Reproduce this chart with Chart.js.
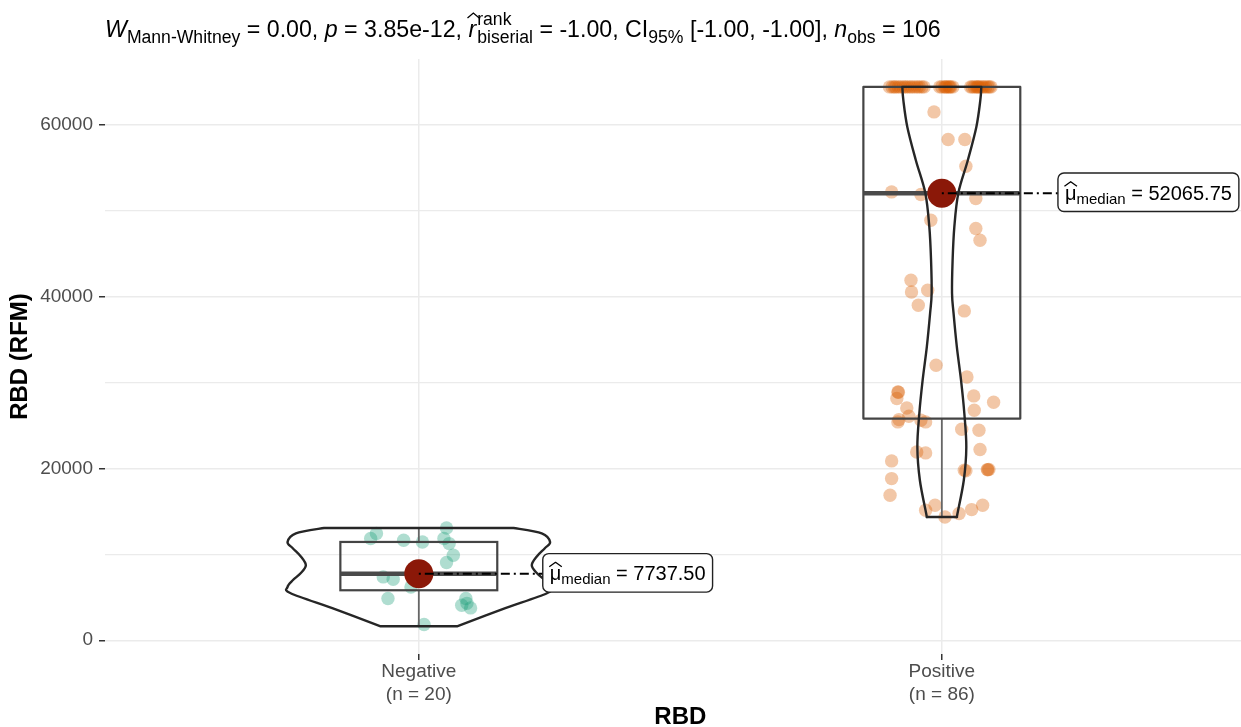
<!DOCTYPE html>
<html><head><meta charset="utf-8">
<script src="https://cdn.jsdelivr.net/npm/chart.js@4"></script>
<style>html,body{margin:0;padding:0;background:#fff}canvas{display:block}</style>
</head><body>
<canvas id="c" width="1241" height="727"></canvas>
<script>
// ---------------- data ----------------
const categories = ['Negative', 'Positive'];
const groupCounts = [20, 86];
const yMajorTicks = [0, 20000, 40000, 60000];
const yMinorTicks = [10000, 30000, 50000];

const negativeValues = [11850,12430,11650,11450,13080,11850,11260,9900,9050,7380,7110,6210,4860,4860,4080,3770,1830,7575,7900,4300];
const negativeJitter = [-0.092,-0.081,-0.029,0.007,0.053,0.048,0.058,0.066,0.053,-0.068,-0.049,-0.015,-0.059,0.090,0.082,0.099,0.010,-0.011,0.013,0.092];

const positiveTopValues = [64450,64450,64450,64450,64450,64450,64450,64450,64450,64450,64450,64450,64450,64450,64450,64450,64450,64450,64450,64450,64450,64450,64450,64450,64450,64450,64450,64450,64450,64450,64450,64450,64450,64450,64450,64450,64450,64450];
const positiveTopJitter = [-0.100,-0.095,-0.091,-0.088,-0.083,-0.079,-0.074,-0.070,-0.066,-0.061,-0.057,-0.052,-0.047,-0.043,-0.038,-0.034,
  -0.004,0.000,0.005,0.009,0.013,0.017,0.021,0.007,0.015,
  0.055,0.058,0.062,0.066,0.070,0.073,0.077,0.080,0.084,0.088,0.091,0.094,0.068];
const positiveRestValues = [61540,58320,58320,55210,52220,51911,51450,48920,47960,46590,41930,40570,40770,39020,38360,32030,30670,28920,28150,28460,27720,27060,26790,26090,25430,25630,25430,24580,24460,21930,21820,22210,20890,19800,19750,19880,19900,19850,18830,16890,15140,15730,14360,14760,15220,15730,25700,28880];
const positiveRestJitter = [-0.015,0.012,0.044,0.046,-0.096,-0.040,0.065,-0.021,0.065,0.073,-0.059,-0.058,-0.027,-0.045,0.043,-0.011,0.048,-0.084,-0.086,0.061,0.099,-0.067,0.062,-0.063,-0.084,-0.040,-0.031,0.038,0.071,-0.048,-0.031,0.073,-0.096,0.043,0.046,0.087,0.090,0.088,-0.096,-0.099,-0.031,-0.013,0.006,0.033,0.057,0.078,-0.082,-0.083];

// box-plot summaries [Negative, Positive]
const boxLower = [5824, 25820];
const boxMedian = [7737.50, 52065.75];
const boxUpper = [11450, 64450];
const whiskerLow = [1630, 14360];
const whiskerHigh = [13080, 64450];

// violin outlines: value and half-width (category units)
const violinNegValues = [13080,12460,11450,10720,9785,8740,7800,6990,6210,5475,3600,1630];
const violinNegHalf = [0.181,0.235,0.251,0.241,0.226,0.216,0.226,0.241,0.251,0.245,0.159,0.073];
const violinPosValues = [64450,62900,59790,55910,52070,48140,44260,40420,38090,34160,30290,26440,22520,18640,14790,14360];
const violinPosHalf = [0.0755,0.0736,0.066,0.0497,0.0315,0.0239,0.0206,0.0195,0.0224,0.0287,0.0367,0.043,0.0468,0.042,0.030,0.029];

const medianLabels = ['7737.50', '52065.75'];
const statW = '0.00', statP = '3.85e-12', statR = '-1.00', statCI = '[-1.00, -1.00]', statN = '106';

// --------------- build ---------------
const FONT = '"Liberation Sans", Arial, Helvetica, sans-serif';
const negPoints = negativeValues.map((v, i) => ({x: 1 + negativeJitter[i], y: v}));
const posPoints = positiveTopValues.map((v, i) => ({x: 2 + positiveTopJitter[i], y: v}))
  .concat(positiveRestValues.map((v, i) => ({x: 2 + positiveRestJitter[i], y: v})));
const violins = [
  {vals: violinNegValues, half: violinNegHalf},
  {vals: violinPosValues, half: violinPosHalf}
];
const labelNudge = [0.237, 0.222];

function smoothThrough(ctx, pts) {
  for (let i = 0; i < pts.length - 1; i++) {
    const p0 = pts[i - 1] || pts[i], p1 = pts[i], p2 = pts[i + 1], p3 = pts[i + 2] || pts[i + 1];
    ctx.bezierCurveTo(p1[0] + (p2[0] - p0[0]) / 6, p1[1] + (p2[1] - p0[1]) / 6,
                      p2[0] - (p3[0] - p1[0]) / 6, p2[1] - (p3[1] - p1[1]) / 6, p2[0], p2[1]);
  }
}
function hat(ctx, x0, x1, yb, h) {
  ctx.save();
  ctx.beginPath();
  ctx.lineWidth = 1.3; ctx.strokeStyle = '#000';
  ctx.moveTo(x0, yb); ctx.lineTo((x0 + x1) / 2, yb - h); ctx.lineTo(x1, yb);
  ctx.stroke();
  ctx.restore();
}

const overlay = {
  id: 'overlay',
  beforeDraw(chart) {
    const c = chart.ctx; c.save(); c.fillStyle = '#fff'; c.fillRect(0, 0, chart.width, chart.height); c.restore();
  },
  afterDatasetsDraw(chart) {
    const ctx = chart.ctx, x = chart.scales.x, y = chart.scales.y;
    ctx.save();
    categories.forEach((cat, i) => {
      const c = i + 1;
      const xc = x.getPixelForValue(c);
      const xl = x.getPixelForValue(c - 0.15), xr = x.getPixelForValue(c + 0.15);
      const yq1 = y.getPixelForValue(boxLower[i]), yq3 = y.getPixelForValue(boxUpper[i]);
      const ym = y.getPixelForValue(boxMedian[i]);
      // whiskers
      ctx.strokeStyle = '#666'; ctx.lineWidth = 1.8;
      ctx.beginPath();
      ctx.moveTo(xc, yq3); ctx.lineTo(xc, y.getPixelForValue(whiskerHigh[i]));
      ctx.moveTo(xc, yq1); ctx.lineTo(xc, y.getPixelForValue(whiskerLow[i]));
      ctx.stroke();
      // box
      ctx.strokeStyle = '#444'; ctx.lineWidth = 2.2;
      ctx.strokeRect(xl, yq3, xr - xl, yq1 - yq3);
      ctx.lineWidth = 4.5; ctx.strokeStyle = '#4a4a4a';
      ctx.beginPath(); ctx.moveTo(xl, ym); ctx.lineTo(xr, ym); ctx.stroke();
      // violin
      const v = violins[i];
      const left = v.vals.map((val, k) => [x.getPixelForValue(c - v.half[k]), y.getPixelForValue(val)]);
      const right = v.vals.map((val, k) => [x.getPixelForValue(c + v.half[k]), y.getPixelForValue(val)]).reverse();
      ctx.beginPath();
      ctx.moveTo(left[0][0], left[0][1]);
      smoothThrough(ctx, left);
      ctx.lineTo(right[0][0], right[0][1]);
      smoothThrough(ctx, right);
      ctx.closePath();
      ctx.strokeStyle = '#262626'; ctx.lineWidth = 2.4; ctx.lineJoin = 'round';
      ctx.stroke();
    });
    // centrality points, connectors, labels
    categories.forEach((cat, i) => {
      const c = i + 1;
      const xc = x.getPixelForValue(c), ym = y.getPixelForValue(boxMedian[i]);
      ctx.beginPath(); ctx.fillStyle = 'rgb(139,24,8)';
      ctx.arc(xc, ym, 14.5, 0, Math.PI * 2); ctx.fill();
      const bx = x.getPixelForValue(c + labelNudge[i]);
      ctx.beginPath(); ctx.setLineDash([2, 4, 9, 4]);
      ctx.strokeStyle = '#000'; ctx.lineWidth = 2;
      ctx.moveTo(xc, ym); ctx.lineTo(bx, ym); ctx.stroke();
      ctx.setLineDash([]);
      // label
      const mainF = '20px ' + FONT, subF = '15px ' + FONT;
      ctx.font = mainF; const wMu = ctx.measureText('\u03bc').width;
      const wEq = ctx.measureText(' = ' + medianLabels[i]).width;
      ctx.font = subF; const wSub = ctx.measureText('median').width;
      const pad = 7;
      const bw = pad * 2 + wMu + wSub + wEq, bh = 38.5;
      const by = ym - 1 - bh / 2;
      ctx.beginPath();
      ctx.roundRect(bx, by, bw, bh, 6);
      ctx.fillStyle = '#fff'; ctx.fill();
      ctx.lineWidth = 1.4; ctx.strokeStyle = '#222'; ctx.stroke();
      const base = by + bh / 2 + 7.5;
      let tx = bx + pad;
      ctx.fillStyle = '#000'; ctx.textBaseline = 'alphabetic'; ctx.textAlign = 'left';
      ctx.font = mainF; ctx.fillText('\u03bc', tx, base);
      hat(ctx, tx - 0.5, tx + wMu + 0.5, base - 13.5, 4.5);
      tx += wMu;
      ctx.font = subF; ctx.fillText('median', tx, base + 4); tx += wSub;
      ctx.font = mainF; ctx.fillText(' = ' + medianLabels[i], tx, base);
    });
    ctx.restore();
  },
  afterDraw(chart) {
    const ctx = chart.ctx, x = chart.scales.x, area = chart.chartArea;
    ctx.save();
    ctx.fillStyle = '#000';
    // axis titles
    ctx.font = 'bold 24px ' + FONT; ctx.textAlign = 'center'; ctx.textBaseline = 'middle';
    ctx.fillText('RBD', x.getPixelForValue(1.5), 717);
    ctx.translate(20, (area.top + area.bottom) / 2); ctx.rotate(-Math.PI / 2);
    ctx.fillText('RBD (RFM)', 0, 0);
    ctx.restore();
    // title
    ctx.save();
    const M = 23.2, S = 17.6, base = 37;
    const fN = M + 'px ' + FONT, fI = 'italic ' + M + 'px ' + FONT, fS = S + 'px ' + FONT;
    let tx = 105;
    ctx.fillStyle = '#000'; ctx.textAlign = 'left'; ctx.textBaseline = 'alphabetic';
    const put = (t, f, dy) => { ctx.font = f; ctx.fillText(t, tx, base + dy); const w = ctx.measureText(t).width; tx += w; return w; };
    put('W', fI, 0); put('Mann-Whitney', fS, 6);
    put(' = ' + statW + ', ', fN, 0);
    put('p', fI, 0); put(' = ' + statP + ', ', fN, 0);
    ctx.font = fI; const rx = tx; const rw = ctx.measureText('r').width;
    put('r', fI, 0);
    hat(ctx, rx - 1, rx + rw + 3, base - 19, 5);
    ctx.font = fS; const w1 = ctx.measureText('rank').width, w2 = ctx.measureText('biserial').width;
    ctx.fillText('rank', tx + 1, base - 12); ctx.fillText('biserial', tx + 1, base + 6);
    tx += Math.max(w1, w2) + 1;
    put(' = ' + statR + ', CI', fN, 0); put('95%', fS, 6);
    put(' ' + statCI + ', ', fN, 0);
    put('n', fI, 0); put('obs', fS, 6); put(' = ' + statN, fN, 0);
    ctx.restore();
  }
};

new Chart(document.getElementById('c'), {
  type: 'scatter',
  data: {
    datasets: [
      {data: negPoints, backgroundColor: 'rgba(27,158,119,0.35)', borderWidth: 0, pointRadius: 6.7},
      {data: posPoints, backgroundColor: 'rgba(217,95,2,0.35)', borderWidth: 0, pointRadius: 6.7}
    ]
  },
  options: {
    responsive: false, animation: false, devicePixelRatio: 1, events: [],
    layout: {autoPadding: false, padding: {top: 59, left: 0, right: 0, bottom: 0}},
    plugins: {legend: {display: false}, tooltip: {enabled: false}, title: {display: false}},
    scales: {
      x: {
        type: 'linear', min: 0.4, max: 2.572,
        afterBuildTicks: s => { s.ticks = categories.map((c, i) => ({value: i + 1})); },
        afterFit: s => { s.height = 73; s.paddingLeft = 0; s.paddingRight = 0; },
        ticks: {
          autoSkip: false, maxRotation: 0, padding: 1, color: '#4D4D4D',
          font: {size: 19, family: FONT, lineHeight: 1.17},
          callback: v => { const i = Math.round(v) - 1; return [categories[i], '(n = ' + groupCounts[i] + ')']; }
        },
        grid: {color: '#EBEBEB', lineWidth: 1.5, tickLength: 6, tickColor: '#333', tickWidth: 1.5},
        border: {display: false}
      },
      y: {
        min: -1600, max: 67700,
        afterBuildTicks: s => { s.ticks = yMajorTicks.concat(yMinorTicks).sort((a, b) => a - b).map(v => ({value: v})); },
        afterFit: s => { s.width = 105; s.paddingTop = 0; s.paddingBottom = 0; },
        ticks: {
          padding: 6, color: '#4D4D4D', font: {size: 19, family: FONT},
          callback: v => yMajorTicks.includes(v) ? String(v) : ''
        },
        grid: {
          color: '#EBEBEB',
          lineWidth: ctx => (ctx.tick && yMajorTicks.includes(ctx.tick.value)) ? 1.5 : 1.2,
          tickLength: 6,
          tickColor: ctx => (ctx.tick && yMajorTicks.includes(ctx.tick.value)) ? '#333' : 'rgba(0,0,0,0)',
          tickWidth: 1.5
        },
        border: {display: false}
      }
    }
  },
  plugins: [overlay]
});
</script>
</body></html>
